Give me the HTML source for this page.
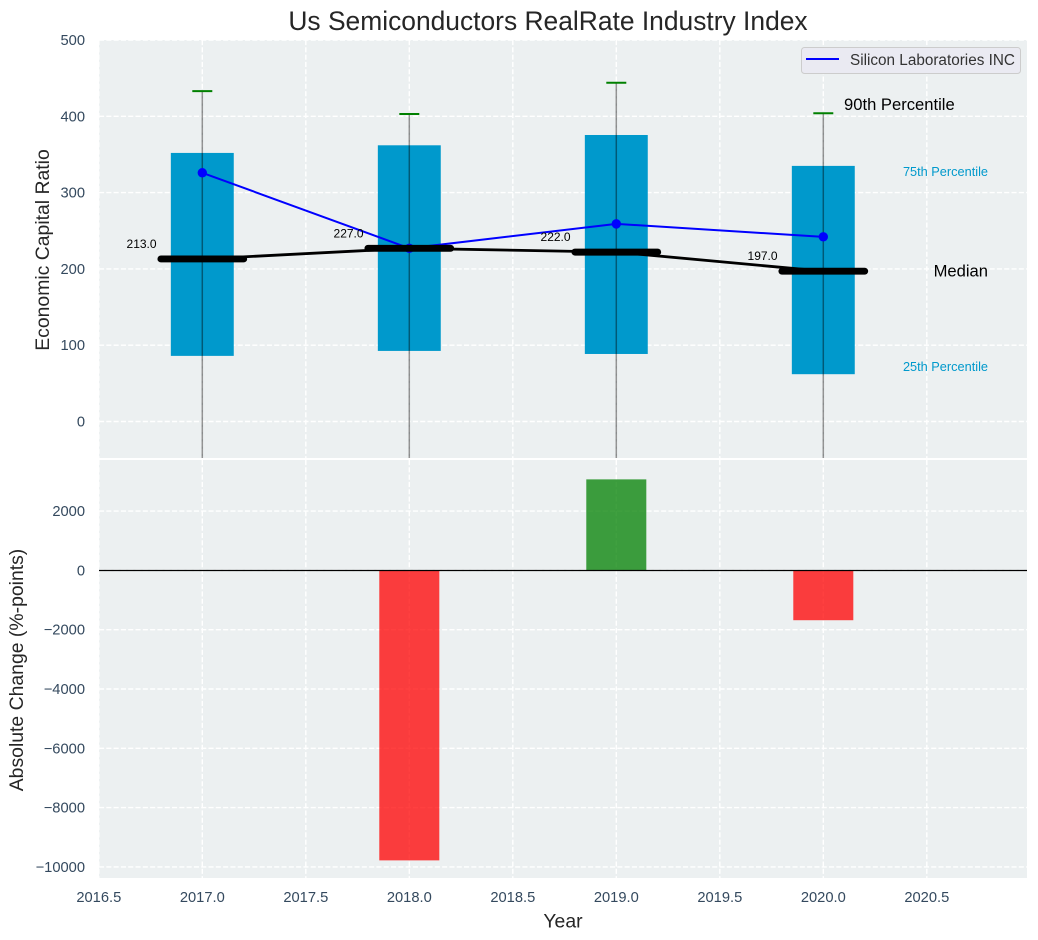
<!DOCTYPE html>
<html lang="en">
<head>
<meta charset="utf-8">
<title>Us Semiconductors RealRate Industry Index</title>
<style>
html,body{margin:0;padding:0;background:#fff;}
svg{display:block;font-family:"Liberation Sans",Arial,sans-serif;}
</style>
</head>
<body>
<svg id="chart" xmlns="http://www.w3.org/2000/svg" width="1038" height="940" viewBox="0 0 1038 940"></svg>
<script>
const years = [2017, 2018, 2019, 2020];
const p90 = [433, 403, 444, 404];
const p75 = [352, 362, 375.5, 335];
const median = [213, 227, 222, 197];
const p25 = [86, 92.5, 88.5, 62];
const p10 = [-60, -60, -60, -60];
const company = [326, 227, 259, 242];
const changes = [0, -9780, 3070, -1680];
const xTicks = [2016.5, 2017, 2017.5, 2018, 2018.5, 2019, 2019.5, 2020, 2020.5];
const yTicksTop = [0, 100, 200, 300, 400, 500];
const yTicksBottom = [-10000, -8000, -6000, -4000, -2000, 0, 2000];

const svg = document.getElementById('chart');
const NS = 'http://www.w3.org/2000/svg';
const L = 99, R = 1027, T1 = 40, B1 = 458, T2 = 460, B2 = 878;
const X = v => 202.3 + (v - 2017) * 207;
const Y1 = v => 421.5 - v * 0.763;
const Y2 = v => 570.4 - v * 0.02965;

function make(tag, attrs, text, parent) {
  const el = document.createElementNS(NS, tag);
  for (const k in attrs) el.setAttribute(k, attrs[k]);
  if (text !== undefined && text !== null) el.textContent = text;
  (parent || svg).appendChild(el);
  return el;
}
let el;
const defs = make('defs', {});
const c1 = make('clipPath', {id: 'clip-top'}, null, defs);
make('rect', {x: L, y: T1, width: R - L, height: B1 - T1}, null, c1);
const c2 = make('clipPath', {id: 'clip-bottom'}, null, defs);
make('rect', {x: L, y: T2, width: R - L, height: B2 - T2}, null, c2);

el = make('text', {x: 548, y: 30, 'font-size': 26.4, fill: '#262626', 'text-anchor': 'middle'}, 'Us Semiconductors RealRate Industry Index');



el = make('rect', {x: L, y: T1, width: R - L, height: B1 - T1, fill: '#ecf0f1'});


el = make('rect', {x: L, y: T2, width: R - L, height: B2 - T2, fill: '#ecf0f1'});



const gridStyle = {stroke: '#ffffff', 'stroke-width': 1.39, 'stroke-dasharray': '5.1 2.2'};

xTicks.forEach(t => {
  el = make('line', {x1: X(t), x2: X(t), y1: T1, y2: B1, ...gridStyle});
  
  
  el = make('line', {x1: X(t), x2: X(t), y1: T2, y2: B2, ...gridStyle});
  
  
  el = make('text', {x: X(t), y: 902, 'font-size': 14.7, fill: '#34495e', 'text-anchor': 'middle'}, t.toFixed(1));
  
  
});
yTicksTop.forEach(t => {
  el = make('line', {x1: L, x2: R, y1: Y1(t), y2: Y1(t), ...gridStyle});
  
  
  el = make('text', {x: 85, y: Y1(t) + 5, 'font-size': 14.7, fill: '#34495e', 'text-anchor': 'end'}, t);
  
  
});
yTicksBottom.forEach(t => {
  el = make('line', {x1: L, x2: R, y1: Y2(t), y2: Y2(t), ...gridStyle});
  
  
  el = make('text', {x: 85, y: Y2(t) + 5, 'font-size': 14.7, fill: '#34495e', 'text-anchor': 'end'}, t === 0 ? '0' : (t < 0 ? '\u2212' + Math.abs(t) : t));
  
  
});

const gTop = make('g', {'clip-path': 'url(#clip-top)'});



years.forEach((yr, i) => {
  el = make('rect', {x: X(yr - 0.152), width: X(yr + 0.152) - X(yr - 0.152), y: Y1(p75[i]), height: Y1(p25[i]) - Y1(p75[i]), fill: '#0099cc'}, null, gTop);
  
  
});
years.forEach((yr, i) => {
  el = make('line', {x1: X(yr), x2: X(yr), y1: Y1(p90[i]), y2: Y1(p10[i]), stroke: '#000', 'stroke-opacity': 0.42, 'stroke-width': 1.5}, null, gTop);
  
  
  el = make('line', {x1: X(yr) - 10, x2: X(yr) + 10, y1: Y1(p90[i]), y2: Y1(p90[i]), stroke: '#008000', 'stroke-width': 2}, null, gTop);
  
  
});

el = make('polyline', {points: years.map((yr, i) => X(yr) + ',' + Y1(company[i])).join(' '), fill: 'none', stroke: '#0000ff', 'stroke-width': 2}, null, gTop);


years.forEach((yr, i) => {
  el = make('circle', {cx: X(yr), cy: Y1(company[i]), r: 4.7, fill: '#0000ff'}, null, gTop);
  
  
});

el = make('polyline', {points: years.map((yr, i) => X(yr) + ',' + Y1(median[i])).join(' '), fill: 'none', stroke: '#000', 'stroke-width': 2.8}, null, gTop);


years.forEach((yr, i) => {
  el = make('line', {x1: X(yr - 0.2), x2: X(yr + 0.2), y1: Y1(median[i]), y2: Y1(median[i]), stroke: '#000', 'stroke-width': 6.9, 'stroke-linecap': 'round'}, null, gTop);
  
  
  el = make('text', {x: X(yr - 0.366), y: Y1(median[i]) - 11, 'font-size': 12, fill: '#000'}, median[i].toFixed(1), gTop);
  
  
});

el = make('text', {x: 844, y: 110, 'font-size': 16.6, fill: '#000'}, '90th Percentile');


el = make('text', {x: 988, y: 176, 'font-size': 12.75, fill: '#0099cc', 'text-anchor': 'end'}, '75th Percentile');


el = make('text', {x: 988, y: 276.5, 'font-size': 16.6, fill: '#000', 'text-anchor': 'end'}, 'Median');


el = make('text', {x: 988, y: 371, 'font-size': 12.75, fill: '#0099cc', 'text-anchor': 'end'}, '25th Percentile');



const legend = make('g', {});


make('rect', {x: 801.5, y: 47.5, width: 219, height: 26, rx: 3, fill: '#eaeaf2', stroke: '#cccccc', 'stroke-width': 1}, null, legend);
el = make('line', {x1: 806, x2: 839, y1: 59, y2: 59, stroke: '#0000ff', 'stroke-width': 2}, null, legend);


el = make('text', {x: 850, y: 65, 'font-size': 15.3, fill: '#333333'}, 'Silicon Laboratories INC', legend);



const gBottom = make('g', {'clip-path': 'url(#clip-bottom)'});


years.forEach((yr, i) => {
  if (changes[i] === 0) return;
  const y0 = Y2(Math.max(changes[i], 0));
  const y1 = Y2(Math.min(changes[i], 0));
  el = make('rect', {x: X(yr - 0.145), width: X(yr + 0.145) - X(yr - 0.145), y: y0, height: y1 - y0, fill: changes[i] > 0 ? '#008000' : '#ff0000', 'fill-opacity': 0.75}, null, gBottom);
  
  
});
el = make('line', {x1: L, x2: R, y1: 570.5, y2: 570.5, stroke: '#000', 'stroke-width': 1.2});



el = make('text', {x: 563, y: 927.5, 'font-size': 19.4, fill: '#262626', 'text-anchor': 'middle'}, 'Year');


el = make('text', {transform: 'translate(49,250) rotate(-90)', 'font-size': 19.4, fill: '#262626', 'text-anchor': 'middle'}, 'Economic Capital Ratio');


el = make('text', {transform: 'translate(23,670) rotate(-90)', 'font-size': 19.4, fill: '#262626', 'text-anchor': 'middle'}, 'Absolute Change (%-points)');


</script>
</body>
</html>
